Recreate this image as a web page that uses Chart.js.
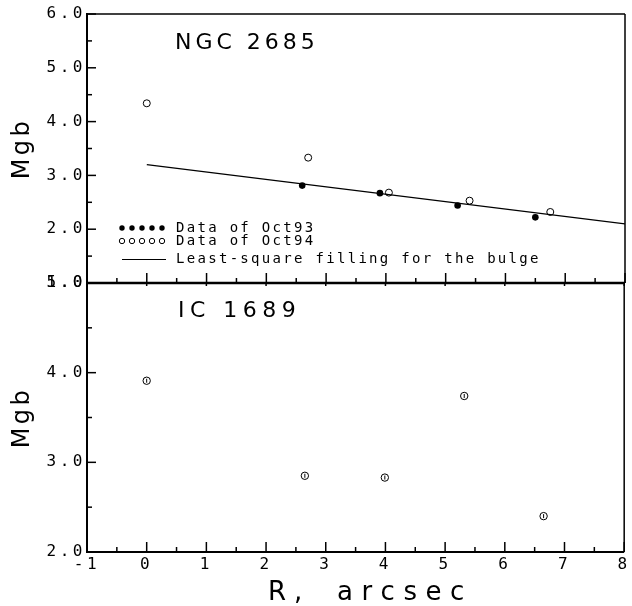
<!DOCTYPE html>
<html>
<head>
<meta charset="utf-8">
<script src="https://cdn.jsdelivr.net/npm/chart.js@4"></script>
<style>
body { margin: 0; background: #fff; }
#wrap { position: relative; width: 632px; height: 606px; }
canvas { position: absolute; left: 0; top: 0; }
</style>
</head>
<body>
<div id="wrap">
<canvas id="bottom_chart" width="632" height="606"></canvas>
<canvas id="top_chart" width="632" height="606"></canvas>
</div>
<script>
// NGC 2685 (upper panel)
const ngc_oct93_r = [2.60, 3.90, 5.20, 6.50]
const ngc_oct93_mgb = [2.81, 2.67, 2.44, 2.22]
const ngc_oct94_r = [0.00, 2.70, 4.05, 5.40, 6.75]
const ngc_oct94_mgb = [4.34, 3.33, 2.68, 2.53, 2.32]
const ngc_fit_r = [0, 8]
const ngc_fit_mgb = [3.20, 2.10]

// IC 1689 (lower panel)
const ic_r = [0.00, 2.65, 3.99, 5.32, 6.65]
const ic_mgb = [3.91, 2.85, 2.83, 3.74, 2.40]

const x_range = [-1, 8]
const ngc_y_range = [1, 6]
const ic_y_range = [2, 5]

const panel_titles = ["NGC 2685", "IC 1689"]
const legend_labels = ["Data of Oct93", "Data of Oct94", "Least-square filling for the bulge"]
const y_title = "Mgb"
const x_title = "R, arcsec"

const mono_font = "'DejaVu Sans Mono', monospace"
const sans_font = "'DejaVu Sans', sans-serif"


function make_points(xs, ys)
{
    return xs.map((x, i) => ({ x: x, y: ys[i] }))
}

// canvas letterSpacing is not reliable everywhere, so step through the characters
function fill_spaced(ctx, text, x, y, spacing)
{
    for (const ch of text)
    {
        ctx.fillText(ch, x, y)
        x += ctx.measureText(ch).width + spacing
    }
}

function line(ctx, x0, y0, x1, y1, width)
{
    ctx.lineWidth = width
    ctx.beginPath()
    ctx.moveTo(x0, y0)
    ctx.lineTo(x1, y1)
    ctx.stroke()
}

// ticks drawn inward from the frame, majors on whole numbers, minors on halves
function draw_x_ticks(ctx, scale, y, direction, major_len, minor_len)
{
    for (let v = scale.min; v <= scale.max + 1e-9; v += 0.5)
    {
        const len = Number.isInteger(v) ? major_len : minor_len
        if (len <= 0) continue
        const px = scale.getPixelForValue(v)
        line(ctx, px, y, px, y + direction * len, 1.5)
    }
}

function draw_y_ticks(ctx, scale, x, major_len, minor_len)
{
    for (let v = scale.min; v <= scale.max + 1e-9; v += 0.5)
    {
        const len = Number.isInteger(v) ? major_len : minor_len
        const py = scale.getPixelForValue(v)
        line(ctx, x, py, x + len, py, 1.5)
    }
}

const top_panel_plugin = {
    id: "top_panel",
    beforeDraw(chart)
    {
        chart.ctx.letterSpacing = "3.5px"
    },
    afterDraw(chart)
    {
        const ctx = chart.ctx
        const area = chart.chartArea
        ctx.save()
        ctx.letterSpacing = "0px"
        ctx.strokeStyle = "#000"
        ctx.fillStyle = "#000"

        line(ctx, area.left, area.top, area.right, area.top, 1.5)
        line(ctx, area.right, area.top, area.right, area.bottom, 1.5)
        line(ctx, area.left, area.top - 1, area.left, area.bottom, 2)
        line(ctx, area.left, area.bottom, area.right, area.bottom, 2.5)
        draw_x_ticks(ctx, chart.scales.x, area.bottom, -1, 10, 5)
        draw_y_ticks(ctx, chart.scales.y, area.left, 9, 5)

        ctx.font = "22px " + sans_font
        ctx.textBaseline = "alphabetic"
        fill_spaced(ctx, panel_titles[0], 175, 49, 4)

        // legend, lower left inside the panel
        const rows_y = [228, 241, 259.5]
        for (let i = 0; i < 5; ++i)
        {
            ctx.beginPath()
            ctx.arc(122 + i * 10, rows_y[0], 2.7, 0, 2 * Math.PI)
            ctx.fill()
            ctx.beginPath()
            ctx.lineWidth = 1
            ctx.arc(122 + i * 10, rows_y[1], 2.7, 0, 2 * Math.PI)
            ctx.stroke()
        }
        line(ctx, 122, rows_y[2], 166, rows_y[2], 1)

        ctx.font = "14px " + mono_font
        ctx.textBaseline = "middle"
        legend_labels.forEach((label, i) => fill_spaced(ctx, label, 176, rows_y[i], 2.3))
        ctx.restore()
    }
}

const bottom_panel_plugin = {
    id: "bottom_panel",
    beforeDraw(chart)
    {
        chart.ctx.letterSpacing = "3.5px"
    },
    afterDraw(chart)
    {
        const ctx = chart.ctx
        const area = chart.chartArea
        ctx.save()
        ctx.letterSpacing = "0px"
        ctx.strokeStyle = "#000"
        ctx.fillStyle = "#000"

        line(ctx, area.right, area.top, area.right, area.bottom, 1.5)
        line(ctx, area.left, area.top, area.left, area.bottom + 1, 2)
        line(ctx, area.left, area.bottom, area.right, area.bottom, 2)
        draw_x_ticks(ctx, chart.scales.x, area.bottom, -1, 10, 5)
        draw_x_ticks(ctx, chart.scales.x, area.top + 1, 1, 2, 0)
        draw_y_ticks(ctx, chart.scales.y, area.left, 9, 5)

        ctx.font = "22px " + sans_font
        ctx.textBaseline = "alphabetic"
        fill_spaced(ctx, panel_titles[1], 178, 317, 5.5)

        // axis title, with the wide gap after the comma of the original
        const [title_head, title_tail] = x_title.split(" ")
        ctx.font = "26px " + sans_font
        fill_spaced(ctx, title_head, 268, 600, 8)
        fill_spaced(ctx, title_tail, 337, 600, 8.5)
        ctx.restore()
    }
}

const tick_font = { family: mono_font, size: 16 }
const title_font = { family: sans_font, size: 24 }

function y_axis(range)
{
    return {
        type: "linear",
        min: range[0],
        max: range[1],
        afterFit: scale => { scale.width = 87 },
        grid: { display: false, drawTicks: false },
        border: { display: false },
        ticks: {
            stepSize: 1,
            padding: 1,
            color: "#000",
            font: tick_font,
            callback: v => v.toFixed(1),
        },
        title: {
            display: true,
            text: y_title,
            color: "#000",
            font: title_font,
            padding: { top: 8, bottom: 0 },
        },
    }
}

const common_options = {
    responsive: false,
    animation: false,
    events: [],
    plugins: { legend: { display: false }, tooltip: { enabled: false } },
}

new Chart(document.getElementById("top_chart"), {
    type: "scatter",
    data: {
        datasets: [
            {
                label: legend_labels[0],
                data: make_points(ngc_oct93_r, ngc_oct93_mgb),
                pointStyle: "circle",
                pointRadius: 3.3,
                backgroundColor: "#000",
                borderColor: "#000",
                borderWidth: 0,
                order: 0,
            },
            {
                label: legend_labels[1],
                data: make_points(ngc_oct94_r, ngc_oct94_mgb),
                pointStyle: "circle",
                pointRadius: 3.5,
                backgroundColor: "rgba(0,0,0,0)",
                borderColor: "#000",
                borderWidth: 1,
                order: 0,
            },
            {
                label: legend_labels[2],
                type: "line",
                data: make_points(ngc_fit_r, ngc_fit_mgb),
                showLine: true,
                borderColor: "#000",
                borderWidth: 1.2,
                pointRadius: 0,
                fill: false,
                order: 1,
            },
        ]
    },
    options: {
        ...common_options,
        layout: { padding: { top: 14, right: 7, bottom: 323, left: 0 } },
        scales: {
            x: { type: "linear", display: false, min: x_range[0], max: x_range[1] },
            y: y_axis(ngc_y_range),
        }
    },
    plugins: [top_panel_plugin]
})

new Chart(document.getElementById("bottom_chart"), {
    type: "scatter",
    data: {
        datasets: [
            {
                label: panel_titles[1],
                data: make_points(ic_r, ic_mgb),
                pointStyle: "circle",
                pointRadius: 3.7,
                backgroundColor: "rgba(0,0,0,0)",
                borderColor: "#000",
                borderWidth: 1,
            },
            {
                // small vertical bar inside each circle
                label: panel_titles[1] + " bars",
                data: make_points(ic_r, ic_mgb),
                pointStyle: "line",
                rotation: 90,
                pointRadius: 2,
                borderColor: "#000",
                borderWidth: 1,
            },
        ]
    },
    options: {
        ...common_options,
        layout: { padding: { top: 283, right: 7, bottom: 0, left: 0 } },
        scales: {
            x: {
                type: "linear",
                min: x_range[0],
                max: x_range[1],
                afterFit: scale => { scale.height = 54 },
                grid: { display: false, drawTicks: false },
                border: { display: false },
                ticks: {
                    stepSize: 1,
                    padding: 3,
                    color: "#000",
                    font: tick_font,
                    maxRotation: 0,
                    minRotation: 0,
                    autoSkip: false,
                    callback: v => String(v),
                },
            },
            y: y_axis(ic_y_range),
        }
    },
    plugins: [bottom_panel_plugin]
})
</script>
</body>
</html>
